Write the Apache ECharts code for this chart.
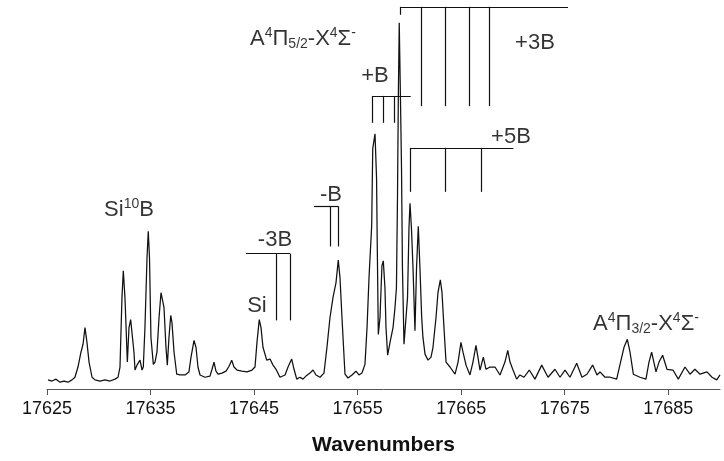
<!DOCTYPE html>
<html>
<head>
<meta charset="utf-8">
<script src="https://cdn.jsdelivr.net/npm/echarts@6/dist/echarts.min.js"></script>
<style>html,body{margin:0;padding:0;background:#fff}#c{width:724px;height:461px}</style>
</head>
<body>
<div id="c"></div>
<script>
// ---- data ----
const xTicks = [17625, 17635, 17645, 17655, 17665, 17675, 17685];
const wavenumber = [
17625.10,17625.48,17625.87,17626.26,17626.64,17627.03,17627.41,17627.70,17627.99,17628.28,17628.48,17628.67,17628.86,17629.06,17629.35,17629.64,
17630.12,17630.60,17631.08,17631.57,17631.86,17632.05,17632.24,17632.37,17632.53,17632.76,17632.92,17633.08,17633.26,17633.40,17633.50,17633.69,
17633.98,17634.18,17634.30,17634.46,17634.66,17634.78,17634.90,17635.04,17635.27,17635.43,17635.62,17635.82,17636.01,17636.17,17636.30,17636.49,
17636.62,17636.78,17636.95,17637.07,17637.27,17637.53,17637.85,17638.33,17638.71,17638.91,17639.20,17639.39,17639.58,17639.78,17640.26,17640.74,
17640.94,17641.13,17641.32,17641.52,17641.90,17642.29,17642.58,17642.84,17643.06,17643.35,17643.83,17644.32,17644.80,17645.09,17645.28,17645.50,
17645.67,17645.86,17646.22,17646.54,17646.83,17647.12,17647.50,17647.99,17648.28,17648.63,17648.86,17649.12,17649.43,17649.72,17650.01,17650.40,
17650.69,17650.98,17651.37,17651.75,17652.04,17652.33,17652.62,17652.91,17653.13,17653.30,17653.49,17653.78,17654.07,17654.46,17654.84,17655.13,
17655.42,17655.71,17655.91,17656.10,17656.36,17656.46,17656.68,17656.83,17656.90,17657.00,17657.16,17657.35,17657.48,17657.64,17657.74,17657.90,
17658.13,17658.42,17658.61,17658.75,17658.85,17658.93,17659.02,17659.14,17659.24,17659.33,17659.48,17659.67,17659.82,17659.96,17660.06,17660.20,
17660.35,17660.54,17660.69,17660.86,17661.02,17661.19,17661.31,17661.51,17661.80,17662.09,17662.28,17662.57,17662.76,17662.99,17663.15,17663.34,
17663.54,17663.92,17664.41,17664.70,17664.98,17665.18,17665.47,17665.85,17666.14,17666.43,17666.62,17666.82,17667.14,17667.40,17667.79,17668.27,
17668.75,17669.23,17669.50,17669.72,17670.01,17670.36,17670.68,17671.07,17671.58,17672.13,17672.78,17673.39,17674.06,17674.55,17675.03,17675.51,
17676.16,17676.67,17677.15,17677.70,17678.12,17678.41,17678.89,17679.38,17680.02,17680.44,17680.73,17681.05,17681.31,17681.63,17682.27,17682.85,
17683.14,17683.40,17683.82,17684.11,17684.46,17684.88,17685.46,17685.97,17686.62,17687.10,17687.58,17688.07,17688.74,17689.23,17689.68,17690.00
];
const intensity = [
2.4,2.1,2.6,1.8,2.1,1.8,2.4,3.1,5.8,9.7,11.8,16.2,12.3,7.1,3.1,2.4,
2.1,2.4,2.1,2.6,3.1,5.8,24.1,31.2,24.1,7.1,16.2,18.3,18.1,9.7,5.0,6.3,
7.6,5.0,5.8,16.2,34.6,41.6,34.6,13.6,6.5,7.1,9.7,18.8,25.4,25.9,21.5,11.0,
6.3,13.6,19.4,17.5,9.7,3.9,3.7,3.7,4.5,8.4,12.8,11.0,5.8,3.7,3.1,3.4,
5.2,7.1,4.7,3.9,4.2,4.7,6.0,7.6,5.8,5.0,4.7,4.5,5.0,5.8,12.3,18.3,
16.2,11.0,7.6,7.9,6.3,5.2,3.1,3.7,5.8,7.9,5.2,2.6,3.1,2.6,3.4,4.2,
5.0,3.7,3.1,4.2,11.0,18.8,24.1,28.0,34.0,29.3,18.8,3.9,2.9,3.7,4.7,3.7,
4.2,6.5,16.2,29.3,43.2,63.4,67.3,55.5,37.2,14.4,18.8,32.5,33.8,26.7,16.2,8.9,
12.3,16.2,21.5,26.7,50.3,76.4,96.6,76.4,58.1,31.9,11.8,11.5,24.1,42.4,49.0,42.4,
31.9,15.4,31.9,42.9,31.9,18.8,13.6,9.2,7.6,8.4,11.0,18.8,25.4,28.8,25.4,16.2,
7.1,5.8,3.9,7.1,12.3,9.7,6.3,3.7,7.1,11.5,8.4,5.0,8.4,5.2,5.8,5.8,
3.7,7.1,10.2,7.1,5.0,2.6,3.7,3.1,5.0,2.6,6.3,3.1,5.2,3.1,5.0,3.1,
6.8,3.1,3.9,6.3,3.7,4.5,3.1,3.1,2.6,7.6,11.0,13.1,9.7,3.9,3.1,2.6,
7.1,9.7,4.5,7.1,8.9,5.2,5.0,2.6,5.8,3.9,5.2,3.9,4.5,3.1,2.4,3.7
];
// bracket annotations: horizontal bars [xStart, xEnd, y] and teeth [x, yTop, yBottom]
const bar3B = [17659.16, 17675.32, 100.8];
const teeth3B = [[17659.16, 100.8, 98.7], [17661.19, 100.8, 74.6], [17663.44, 100.8, 74.6], [17665.76, 100.8, 74.6], [17667.72, 100.8, 74.6]];
const barB = [17656.46, 17660.13, 77.3];
const teethB = [[17656.46, 77.3, 70.2], [17657.48, 77.3, 70.2], [17658.51, 77.3, 70.2]];
const bar5B = [17660.06, 17670.04, 63.6];
const teeth5B = [[17660.06, 63.6, 52.0], [17663.44, 63.6, 52.0], [17666.92, 63.6, 52.0]];
const barMinusB = [17650.79, 17653.13, 48.2];
const teethMinusB = [[17652.33, 48.2, 37.6], [17653.13, 48.2, 37.6]];
const barMinus3B = [17644.22, 17648.47, 35.7];
const teethMinus3B = [[17647.18, 35.7, 18.1], [17648.47, 35.7, 18.1]];
// text annotations [x, y, rich-text]
const labels = [
  [17649.72, 92.4, 'A{sup|4}Π{sub|5/2}-X{sup|4}Σ{sup|-}'],
  [17672.13, 91.4, '+3B'],
  [17656.68, 82.5, '+B'],
  [17669.81, 66.6, '+5B'],
  [17652.43, 51.1, '-B'],
  [17647.02, 39.3, '-3B'],
  [17632.92, 47.2, 'Si{sup|10}B'],
  [17645.28, 21.8, 'Si'],
  [17682.85, 17.2, 'A{sup|4}Π{sub|3/2}-X{sup|4}Σ{sup|-}']
];

// ---- chart ----
const FONT = 'Liberation Sans, Arial, sans-serif';
const segs = [];
function addBracket(bar, teeth) {
  segs.push([{coord: [bar[0], bar[2]]}, {coord: [bar[1], bar[2]]}]);
  teeth.forEach(t => segs.push([{coord: [t[0], t[1]]}, {coord: [t[0], t[2]]}]));
}
addBracket(bar3B, teeth3B);
addBracket(barB, teethB);
addBracket(bar5B, teeth5B);
addBracket(barMinusB, teethMinusB);
addBracket(barMinus3B, teethMinus3B);

const txt = {color: '#000', fontFamily: FONT, textBorderWidth: 0, textShadowBlur: 0};
const chart = echarts.init(document.getElementById('c'), null, {renderer: 'canvas'});
chart.setOption({
  animation: false,
  backgroundColor: '#fff',
  grid: {left: 47, right: 4, top: 0, bottom: 69},
  xAxis: {
    type: 'value', min: 17625, max: 17690,
    axisLine: {lineStyle: {color: '#555', width: 1}},
    axisTick: {show: true, customValues: xTicks, length: 6, lineStyle: {color: '#555'}},
    axisLabel: {customValues: xTicks, formatter: v => String(v), fontSize: 18, color: '#111', margin: 11, fontFamily: FONT},
    splitLine: {show: false},
    name: 'Wavenumbers', nameLocation: 'middle', nameGap: 46,
    nameTextStyle: {fontWeight: 'bold', fontSize: 21, color: '#111', fontFamily: FONT}
  },
  yAxis: {type: 'value', min: 0, max: 102.6, show: false},
  series: [
    {
      type: 'line',
      data: wavenumber.map((w, i) => [w, intensity[i]]),
      showSymbol: false,
      lineStyle: {color: '#111', width: 1.25},
      clip: false,
      markLine: {
        silent: true, symbol: 'none', animation: false,
        label: {show: false},
        lineStyle: {color: '#111', width: 1.2, type: 'solid'},
        data: segs
      }
    },
    {
      type: 'scatter',
      data: labels.map(l => ({value: [l[0], l[1]], text: l[2]})),
      symbolSize: 1,
      itemStyle: {color: 'rgba(0,0,0,0)'},
      silent: true,
      label: {
        show: true, position: 'inside', color: '#000', textBorderWidth: 0,
        formatter: p => '{n|' + p.data.text.replace(/\{(sup|sub)\|([^}]*)\}/g, '}{$1|$2}{n|') + '}',
        rich: {
          n: Object.assign({fontSize: 22, lineHeight: 25}, txt),
          sup: Object.assign({fontSize: 14, lineHeight: 14, verticalAlign: 'top'}, txt),
          sub: Object.assign({fontSize: 14, lineHeight: 14, verticalAlign: 'bottom'}, txt)
        }
      }
    }
  ]
});
</script>
</body>
</html>
